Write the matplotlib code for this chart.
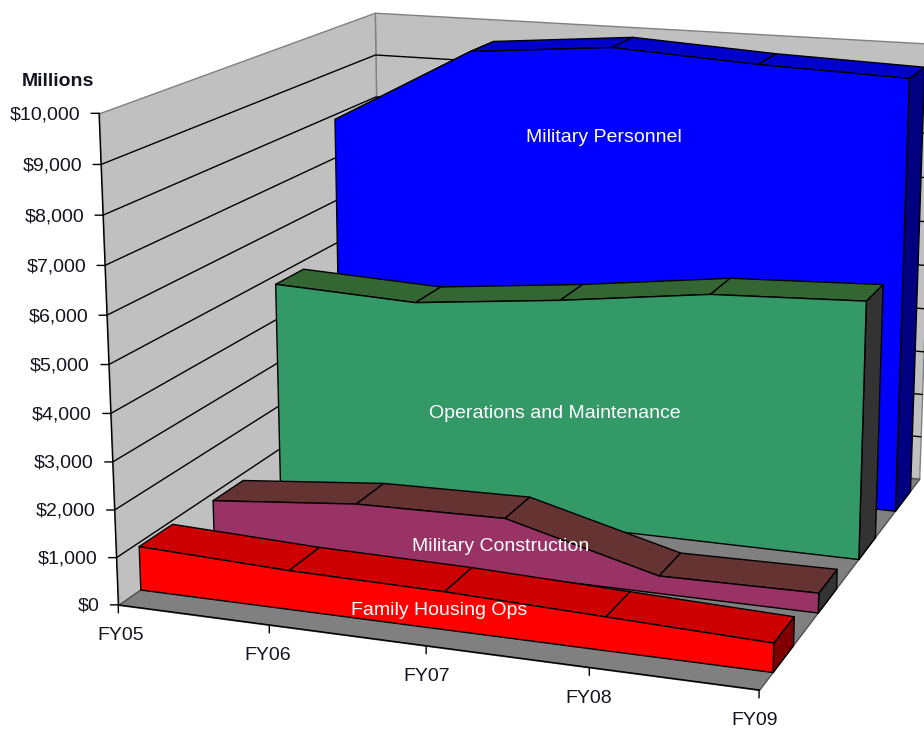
import numpy as np
import matplotlib
matplotlib.use("Agg")
import matplotlib.pyplot as plt
from mpl_toolkits.mplot3d.art3d import Poly3DCollection, Line3D
from mpl_toolkits.mplot3d import proj3d

plt.rcParams["font.family"] = ["Liberation Sans", "DejaVu Sans"]

# Chart data, $ millions
years = ["FY05", "FY06", "FY07", "FY08", "FY09"]
family_housing = [933, 820, 787, 689, 590]
military_construction = [858, 1156, 1219, 374, 419]
operations_maintenance = [4821, 4692, 5031, 5447, 5590]
military_personnel = [7906, 9660, 9936, 9752, 9645]
value_ticks = list(range(0, 11000, 1000))
series_names = ["Family Housing Ops", "Military Construction",
                "Operations and Maintenance", "Military Personnel"]

FACE = ["#FF0000", "#993366", "#339966", "#0000FF"]
TOP = ["#CC0000", "#663333", "#336633", "#0000CC"]
SIDE = ["#800000", "#333333", "#333333", "#000080"]
INK = "#14141f"

W, H = 924, 734
DEPTH = 4.0
NEAR, FAR = 0.28, 0.72
LW = 1.0
TEXT_SIZE = 14.0

# Camera: box corners and where they sit on the canvas
corners = [((0, 0, 0), (118, 603.5)), ((4, 0, 0), (759.5, 690.7)),
           ((0, DEPTH, 0), (381, 423)), ((4, DEPTH, 0), (919, 478)),
           ((0, 0, 10000), (99, 114)), ((0, DEPTH, 10000), (375, 12)),
           ((4, DEPTH, 10000), (934, 44))]


def fit_camera(pairs):
    rows = []
    for (x, y, z), (u, v) in pairs:
        z = z / 1000
        rows.append([x, y, z, 1, 0, 0, 0, 0, -u*x, -u*y, -u*z, -u])
        rows.append([0, 0, 0, 0, x, y, z, 1, -v*x, -v*y, -v*z, -v])
    cam = np.linalg.svd(np.array(rows, float))[2][-1].reshape(3, 4)
    return cam @ np.diag([1, 1, 1 / 1000, 1])


fig = plt.figure(figsize=(W / 100, H / 100), dpi=100, facecolor="white")
ax = fig.add_axes([0, -(W - H) / 2 / H, 1, W / H], projection="3d", computed_zorder=False)
ax.set_axis_off()

cam = fit_camera(corners)
canvas_to_display = np.array([[1, 0, 0], [0, -1, H], [0, 0, 1]], float)
proj = ax.transData.inverted().get_matrix() @ canvas_to_display @ cam
centre = np.linalg.svd(proj)[2][-1]
M = np.vstack([proj[0], proj[1], centre, proj[2]])
ax.get_proj = lambda: M

order = [0]


def next_z():
    order[0] += 1
    return order[0]


def face(verts, fc, ec="black"):
    poly = Poly3DCollection([verts], facecolors=fc, edgecolors=ec, linewidths=LW)
    poly.set_zorder(next_z())
    ax.add_collection3d(poly, autolim=False)


def line(xs, ys, zs, color="black", lw=LW):
    ln = Line3D(xs, ys, zs, color=color, linewidth=lw)
    ln.set_zorder(next_z())
    ax.add_line(ln)


def to_2d(x, y, z):
    px, py, _ = proj3d.proj_transform(x, y, z, M)
    return px, py


ztop = value_ticks[-1]
# Walls and floor
face([(0, DEPTH, 0), (4, DEPTH, 0), (4, DEPTH, ztop), (0, DEPTH, ztop)], "#C0C0C0", "#808080")
face([(0, 0, 0), (0, DEPTH, 0), (0, DEPTH, ztop), (0, 0, ztop)], "#C0C0C0", "#808080")
face([(0, 0, 0), (4, 0, 0), (4, DEPTH, 0), (0, DEPTH, 0)], "#808080", "#505050")
for v in value_ticks[1:-1]:
    line([0, 0, 4], [0, DEPTH, DEPTH], [v, v, v])

# Area series, back to front
all_series = [family_housing, military_construction, operations_maintenance, military_personnel]
label_spots = [(1.966, 385), (1.975, 600), (1.969, 2510), (1.952, 7915)]
for s in (3, 2, 1, 0):
    vals = all_series[s]
    y0, y1 = s + NEAR, s + FAR
    last = len(vals) - 1
    face([(last, y0, 0), (last, y1, 0), (last, y1, vals[last]), (last, y0, vals[last])], SIDE[s])
    for i in range(last):
        face([(i, y0, vals[i]), (i + 1, y0, vals[i + 1]), (i + 1, y1, vals[i + 1]), (i, y1, vals[i])], TOP[s])
    outline = [(i, y0, vals[i]) for i in range(last + 1)] + [(last, y0, 0), (0, y0, 0)]
    face(outline, FACE[s])
    lx, lz = label_spots[s]
    ax.annotate(series_names[s], xy=to_2d(lx, y0, lz), color="white", fontsize=TEXT_SIZE,
                ha="center", va="center", zorder=next_z())

# Axes
line([0, 0], [0, 0], [0, ztop])
line([0, 4], [0, 0], [0, 0])


def tick(x2, y2, dx, dy):
    ax.annotate("", xy=(x2, y2), xytext=(dx, dy), textcoords="offset pixels",
                arrowprops=dict(arrowstyle="-", lw=LW, color="black", shrinkA=0, shrinkB=0),
                zorder=next_z())


for v in value_ticks:
    px, py = to_2d(0, 0, v)
    tick(px, py, -8, 0)
    ax.annotate(f"${v:,}", xy=(px, py), xytext=(-19, -1.5), textcoords="offset pixels",
                ha="right", va="center", fontsize=TEXT_SIZE, color=INK, zorder=next_z())
year_nudge = [2, -2, 1, -1, -4]
for i, name in enumerate(years):
    px, py = to_2d(i, 0, 0)
    tick(px, py, 0, -8)
    ax.annotate(name, xy=(px, py), xytext=(year_nudge[i], -31), textcoords="offset pixels",
                ha="center", va="center", fontsize=TEXT_SIZE, color=INK, zorder=next_z())

fig.text(21.7 / W, 1 - 81.5 / H, "Millions", fontsize=TEXT_SIZE, fontweight="bold",
         ha="left", va="center", color=INK)

fig.savefig("out.png", dpi=100)
